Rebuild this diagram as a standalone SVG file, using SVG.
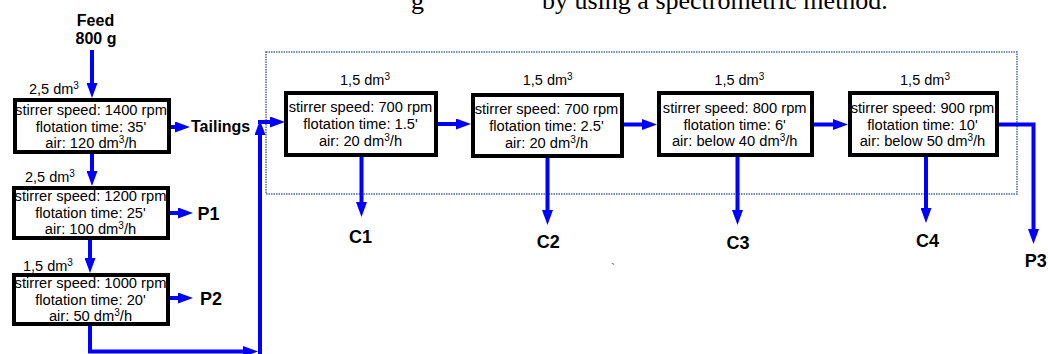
<svg xmlns="http://www.w3.org/2000/svg" width="1048" height="354" viewBox="0 0 1048 354">
<style>
.box{fill:#fff;stroke:#000;stroke-width:4}
.t{font-family:"Liberation Sans",Arial,sans-serif;font-size:14.7px;fill:#000;text-anchor:middle}
.lbl{font-family:"Liberation Sans",Arial,sans-serif;font-size:14.5px;fill:#000}
.b16{font-family:"Liberation Sans",Arial,sans-serif;font-size:16px;font-weight:bold;fill:#000}
.b18{font-family:"Liberation Sans",Arial,sans-serif;font-size:18px;font-weight:bold;fill:#000;text-anchor:middle}
.cap{font-family:"Liberation Serif","Times New Roman",serif;font-size:26px;fill:#000}
.ca{fill:none;stroke:#0000FF;stroke-width:4;marker-end:url(#ah)}
</style>
<defs>
<marker id="ah" markerUnits="userSpaceOnUse" markerWidth="15" markerHeight="11" refX="0" refY="5.5" orient="auto" viewBox="0 0 15 11">
<path d="M0,0 L15,5.5 L0,11 z" fill="#0000FF"/>
</marker>
</defs>
<rect width="1048" height="354" fill="#fff"/>
<g id="caption">
<text class="cap" x="411" y="9">g</text>
<text class="cap" x="542" y="9">by using a spectrometric method.</text>
<text x="611" y="272" font-family="Liberation Serif, serif" font-size="12" fill="#555">`</text>
</g>
<rect id="frame" x="266" y="52" width="751" height="142" fill="none" stroke="#4a6a9c" stroke-width="1.5" stroke-dasharray="1.5 1"/>
<g id="connectors">
<line class="ca" x1="92" y1="50" x2="92" y2="83"/>
<line class="ca" x1="92" y1="154" x2="92" y2="171"/>
<line class="ca" x1="90" y1="240" x2="90" y2="258"/>
<line class="ca" x1="171" y1="127" x2="175" y2="127"/>
<line class="ca" x1="170" y1="213" x2="178" y2="213"/>
<line class="ca" x1="170" y1="298" x2="178" y2="298"/>
<path class="ca" d="M90,326 V351.5 H243"/>
<path class="ca" d="M260,356 V135"/>
<path class="ca" d="M258,122 H270"/>
<line class="ca" x1="438" y1="124" x2="456" y2="124"/>
<line class="ca" x1="624" y1="124.5" x2="642" y2="124.5"/>
<line class="ca" x1="814" y1="124.5" x2="833" y2="124.5"/>
<path class="ca" d="M999,124.5 H1033.5 V229"/>
<line class="ca" x1="361.5" y1="157" x2="361.5" y2="202"/>
<line class="ca" x1="547.5" y1="158" x2="547.5" y2="210"/>
<line class="ca" x1="737.5" y1="157" x2="737.5" y2="210"/>
<line class="ca" x1="926" y1="157" x2="926" y2="208"/>
</g>
<g id="feed">
<text class="b16" x="95.5" y="26" text-anchor="middle">Feed</text>
<text class="b16" x="96" y="44" text-anchor="middle">800 g</text>
</g>
<g id="cell1">
<text class="lbl" x="29" y="94">2,5 dm<tspan font-size="10" dy="-5">3</tspan></text>
<rect class="box" x="15" y="100" width="154" height="52"/>
<text class="t" x="91" y="115">stirrer speed: 1400 rpm</text>
<text class="t" x="91" y="132">flotation time: 35'</text>
<text class="t" x="91" y="148">air: 120 dm<tspan font-size="10" dy="-5">3</tspan><tspan dy="5">/h</tspan></text>
</g>
<g id="tailings"><text class="b16" x="191" y="132">Tailings</text></g>
<g id="cell2">
<text class="lbl" x="25" y="182">2,5 dm<tspan font-size="10" dy="-5">3</tspan></text>
<rect class="box" x="14" y="188" width="154" height="50"/>
<text class="t" x="90.5" y="201">stirrer speed: 1200 rpm</text>
<text class="t" x="90.5" y="218">flotation time: 25'</text>
<text class="t" x="90.5" y="234">air: 100 dm<tspan font-size="10" dy="-5">3</tspan><tspan dy="5">/h</tspan></text>
</g>
<g id="p1"><text class="b18" x="208.5" y="220">P1</text></g>
<g id="cell3">
<text class="lbl" x="23" y="271">1,5 dm<tspan font-size="10" dy="-5">3</tspan></text>
<rect class="box" x="14" y="275" width="154" height="49"/>
<text class="t" x="90.5" y="288">stirrer speed: 1000 rpm</text>
<text class="t" x="90.5" y="305">flotation time: 20'</text>
<text class="t" x="90.5" y="321">air: 50 dm<tspan font-size="10" dy="-5">3</tspan><tspan dy="5">/h</tspan></text>
</g>
<g id="p2"><text class="b18" x="211" y="305">P2</text></g>
<g id="cleaner1">
<text class="lbl" x="365" y="85" text-anchor="middle">1,5 dm<tspan font-size="10" dy="-5">3</tspan></text>
<rect class="box" x="286" y="93" width="150" height="62"/>
<text class="t" x="360.5" y="112">stirrer speed: 700 rpm</text>
<text class="t" x="360.5" y="129">flotation time: 1.5'</text>
<text class="t" x="360.5" y="146">air: 20 dm<tspan font-size="10" dy="-5">3</tspan><tspan dy="5">/h</tspan></text>
</g>
<g id="c1"><text class="b18" x="360.5" y="243">C1</text></g>
<g id="cleaner2">
<text class="lbl" x="547.7" y="85" text-anchor="middle">1,5 dm<tspan font-size="10" dy="-5">3</tspan></text>
<rect class="box" x="473" y="95" width="149" height="61"/>
<text class="t" x="546.5" y="114">stirrer speed: 700 rpm</text>
<text class="t" x="546.5" y="131">flotation time: 2.5'</text>
<text class="t" x="546.5" y="148">air: 20 dm<tspan font-size="10" dy="-5">3</tspan><tspan dy="5">/h</tspan></text>
</g>
<g id="c2"><text class="b18" x="548.3" y="248">C2</text></g>
<g id="cleaner3">
<text class="lbl" x="739.3" y="85" text-anchor="middle">1,5 dm<tspan font-size="10" dy="-5">3</tspan></text>
<rect class="box" x="659" y="93" width="153" height="62"/>
<text class="t" x="734.7" y="113">stirrer speed: 800 rpm</text>
<text class="t" x="734.7" y="130">flotation time: 6'</text>
<text class="t" x="734.7" y="146">air: below 40 dm<tspan font-size="10" dy="-5">3</tspan><tspan dy="5">/h</tspan></text>
</g>
<g id="c3"><text class="b18" x="738" y="249">C3</text></g>
<g id="cleaner4">
<text class="lbl" x="925" y="85" text-anchor="middle">1,5 dm<tspan font-size="10" dy="-5">3</tspan></text>
<rect class="box" x="850" y="93" width="147" height="62"/>
<text class="t" x="922.5" y="113">stirrer speed: 900 rpm</text>
<text class="t" x="922.5" y="130">flotation time: 10'</text>
<text class="t" x="922.5" y="146">air: below 50 dm<tspan font-size="10" dy="-5">3</tspan><tspan dy="5">/h</tspan></text>
</g>
<g id="c4"><text class="b18" x="927.5" y="247">C4</text></g>
<g id="p3"><text class="b18" x="1035.8" y="267">P3</text></g>
</svg>
